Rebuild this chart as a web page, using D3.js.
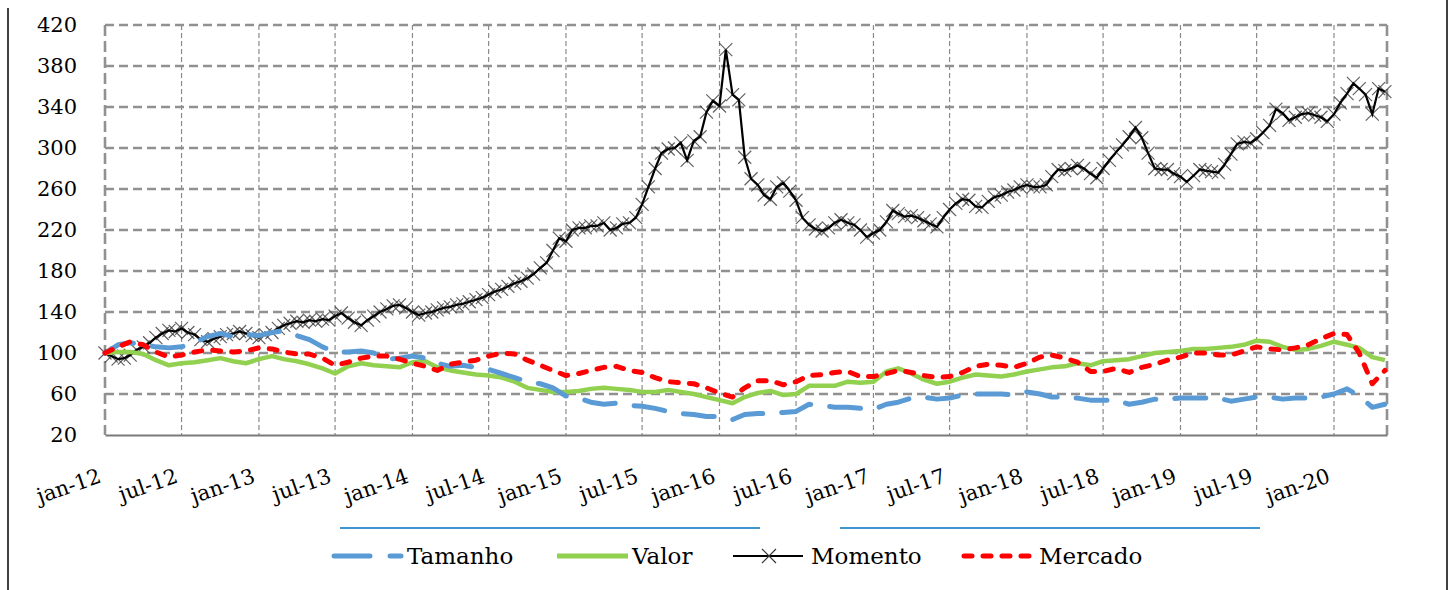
<!DOCTYPE html>
<html>
<head>
<meta charset="utf-8">
<script src="https://cdn.jsdelivr.net/npm/d3@7"></script>
<style>
  body { margin: 0; background: #fff; }
  svg { display: block; }
  text { font-family: "DejaVu Serif", serif; fill: #000; }
</style>
</head>
<body>
<div id="chart"></div>
<script>
// tick labels
var yTicks = [20, 60, 100, 140, 180, 220, 260, 300, 340, 380, 420];
var xTickLabels = ["jan-12","jul-12","jan-13","jul-13","jan-14","jul-14","jan-15","jul-15","jan-16",
                   "jul-16","jan-17","jul-17","jan-18","jul-18","jan-19","jul-19","jan-20"];
var seriesNames = ["Tamanho", "Valor", "Momento", "Mercado"];

// Momento, twice a month (1st and 16th), jan-12 .. may-20
var momento = [100,97,94,95,98,103,106,110,115,119,
  122,121,124,120,118,113,111,114,116,118,
  119,121,119,117,115,118,120,124,127,129,
  131,130,132,131,133,132,136,139,134,130,
  127,132,136,140,143,146,147,144,140,137,
  139,140,142,144,145,147,148,150,152,154,
  157,160,162,165,168,170,173,177,183,188,
  200,212,209,220,222,222,224,224,227,220,
  222,226,227,232,245,262,280,295,299,300,
  305,288,307,311,335,346,341,396,352,347,
  291,270,264,254,250,262,266,258,249,232,
  225,221,219,222,227,230,227,225,220,213,
  217,220,228,239,236,233,234,232,229,226,
  223,232,240,246,250,249,243,242,248,252,
  254,257,259,262,264,262,262,264,272,279,
  278,280,283,280,275,271,280,288,296,303,
  311,320,310,295,280,279,279,275,272,267,
  273,279,278,277,276,284,294,304,306,305,
  309,315,322,338,334,327,330,333,334,332,
  330,326,333,344,353,363,358,352,333,358,
  355];

// monthly, jan-12 .. may-20
var tamanho = [100,108,110,108,106,105,106,110,116,119,
  116,118,117,120,122,117,113,106,101,101,
  102,100,94,95,97,95,90,87,88,86,
  84,80,76,72,70,66,58,56,52,50,
  51,49,48,46,43,41,40,38,38,35,
  40,41,41,42,43,50,49,47,47,46,
  45,50,52,56,57,55,56,59,60,60,
  60,59,62,60,57,57,56,54,54,54,
  50,52,55,55,56,56,56,56,53,55,
  57,57,55,56,56,57,60,65,58,47,
  50];

var valor = [100,101,101,99,93,88,90,91,93,95,
  92,90,94,97,94,92,89,85,80,87,
  90,88,87,86,91,92,86,83,81,79,
  78,76,72,66,64,62,62,63,65,66,
  65,64,62,62,64,62,60,57,54,51,
  57,61,63,59,60,68,68,68,72,71,
  72,82,85,80,74,70,72,76,79,78,
  77,79,82,84,86,87,90,88,92,93,
  94,97,100,101,102,104,104,105,106,108,
  112,111,106,103,104,107,111,108,105,96,
  93];

var mercado = [100,106,111,108,101,96,98,101,103,102,
  101,102,105,104,101,99,99,95,88,91,
  95,97,97,94,90,87,83,89,91,93,
  97,100,99,93,88,83,78,80,83,86,
  87,83,81,76,72,71,70,66,61,57,
  66,73,73,69,72,78,79,81,82,77,
  77,80,83,81,78,76,77,81,87,89,
  88,86,90,96,98,95,91,82,82,85,
  81,86,89,93,96,100,100,98,98,102,
  106,104,103,105,108,114,119,118,100,70,
  83];

var width = 1455, height = 590;
var plot = {left: 105, right: 1387, top: 25, bottom: 435};

var svg = d3.select("#chart").append("svg")
  .attr("width", width)
  .attr("height", height);

var x = d3.scaleTime()
  .domain([new Date(2012, 0, 1), new Date(2020, 4, 6)])
  .range([plot.left, plot.right]);
var y = d3.scaleLinear()
  .domain([20, 420])
  .range([plot.bottom, plot.top]);

function monthly(arr) {
  return arr.map(function(v, i) { return {date: new Date(2012, i, 1), value: v}; });
}
function halfMonthly(arr) {
  return arr.map(function(v, i) {
    return {date: new Date(2012, Math.floor(i / 2), i % 2 ? 16 : 1), value: v};
  });
}

// outer frame lines
svg.append("line").attr("x1", 8).attr("x2", 8).attr("y1", 8).attr("y2", 590)
  .attr("stroke", "#000").attr("stroke-width", 1.5);
svg.append("line").attr("x1", 1447).attr("x2", 1447).attr("y1", 0).attr("y2", 590)
  .attr("stroke", "#000").attr("stroke-width", 1.5);

// vertical grid (every 6 months)
var xTickDates = xTickLabels.map(function(d, i) { return new Date(2012, i * 6, 1); });
svg.append("g")
  .selectAll("line")
  .data(xTickDates.slice(1))
  .enter().append("line")
  .attr("x1", function(d) { return x(d); })
  .attr("x2", function(d) { return x(d); })
  .attr("y1", plot.top)
  .attr("y2", plot.bottom)
  .attr("stroke", "#8a8a8a")
  .attr("stroke-width", 1.2)
  .attr("stroke-dasharray", "5,3");

// horizontal grid
svg.append("g")
  .selectAll("line")
  .data(yTicks.slice(1))
  .enter().append("line")
  .attr("x1", plot.left)
  .attr("x2", plot.right)
  .attr("y1", function(d) { return y(d); })
  .attr("y2", function(d) { return y(d); })
  .attr("stroke", "#919191")
  .attr("stroke-width", 2.6)
  .attr("stroke-dasharray", "9,5");

// side borders of plot area
[plot.left, plot.right].forEach(function(px) {
  svg.append("line").attr("x1", px).attr("x2", px)
    .attr("y1", plot.top).attr("y2", plot.bottom)
    .attr("stroke", "#919191").attr("stroke-width", 2.6)
    .attr("stroke-dasharray", "11,5");
});

// y axis labels
var yAxis = svg.append("g")
  .attr("transform", "translate(" + plot.left + ",0)")
  .call(d3.axisLeft(y).tickValues(yTicks).tickSize(0).tickPadding(28));
yAxis.select(".domain").remove();
yAxis.selectAll("text")
  .style("font-family", "'DejaVu Serif', serif")
  .style("font-size", "21px")
  .attr("fill", "#000");

// x axis (bottom line + rotated labels)
var xAxis = svg.append("g")
  .attr("transform", "translate(0," + plot.bottom + ")")
  .call(d3.axisBottom(x).tickValues(xTickDates).tickSize(0)
    .tickFormat(function(d, i) { return xTickLabels[i]; }));
xAxis.select(".domain").attr("stroke", "#7a7a7a").attr("stroke-width", 2);
xAxis.selectAll("text")
  .style("font-family", "'DejaVu Serif', serif")
  .style("font-size", "21px")
  .attr("fill", "#000")
  .attr("text-anchor", "end")
  .attr("y", 0).attr("dy", 0)
  .attr("transform", "translate(-3,47) rotate(-19)");

// lines
var line = d3.line()
  .x(function(d) { return x(d.date); })
  .y(function(d) { return y(d.value); });

var momentoData = halfMonthly(momento);
var gm = svg.append("g");
gm.selectAll(".mk")
  .data(momentoData)
  .enter().append("path")
  .attr("class", "mk")
  .attr("d", "M-6.5,-6.5L6.5,6.5M-6.5,6.5L6.5,-6.5")
  .attr("transform", function(d) { return "translate(" + x(d.date) + "," + y(d.value) + ")"; })
  .attr("stroke", "#3a3a3a")
  .attr("stroke-opacity", 0.8)
  .attr("stroke-width", 1.2)
  .attr("fill", "none");
gm.append("path")
  .datum(momentoData)
  .attr("d", line)
  .attr("fill", "none")
  .attr("stroke", "#000")
  .attr("stroke-width", 2.2);

svg.append("path")
  .datum(monthly(valor))
  .attr("d", line)
  .attr("fill", "none")
  .attr("stroke", "#92d050")
  .attr("stroke-width", 4.5)
  .attr("stroke-linejoin", "round");

svg.append("path")
  .datum(monthly(tamanho))
  .attr("d", line)
  .attr("fill", "none")
  .attr("stroke", "#5b9bd5")
  .attr("stroke-width", 5)
  .attr("stroke-linecap", "round")
  .attr("stroke-linejoin", "round")
  .attr("stroke-dasharray", "31,19");

svg.append("path")
  .datum(monthly(mercado))
  .attr("d", line)
  .attr("fill", "none")
  .attr("stroke", "#ff0000")
  .attr("stroke-width", 5)
  .attr("stroke-linecap", "round")
  .attr("stroke-linejoin", "round")
  .attr("stroke-dasharray", "8,11");

// decorative blue rules above legend
[[340, 760], [840, 1260]].forEach(function(s) {
  svg.append("line").attr("x1", s[0]).attr("x2", s[1]).attr("y1", 528).attr("y2", 528)
    .attr("stroke", "#0070c0").attr("stroke-width", 1.3);
});

// legend
var ly = 556;
var lg = svg.append("g");
lg.append("line").attr("x1", 334).attr("x2", 370).attr("y1", ly).attr("y2", ly)
  .attr("stroke", "#5b9bd5").attr("stroke-width", 5).attr("stroke-linecap", "round");
lg.append("line").attr("x1", 390).attr("x2", 401).attr("y1", ly).attr("y2", ly)
  .attr("stroke", "#5b9bd5").attr("stroke-width", 5).attr("stroke-linecap", "round");
lg.append("line").attr("x1", 557).attr("x2", 628).attr("y1", ly).attr("y2", ly)
  .attr("stroke", "#92d050").attr("stroke-width", 5);
lg.append("line").attr("x1", 733).attr("x2", 803).attr("y1", ly).attr("y2", ly)
  .attr("stroke", "#000").attr("stroke-width", 2);
lg.append("path").attr("d", "M-7,-7L7,7M-7,7L7,-7")
  .attr("transform", "translate(769," + ly + ")")
  .attr("stroke", "#333").attr("stroke-width", 1.1).attr("fill", "none");
lg.append("line").attr("x1", 964).attr("x2", 1034).attr("y1", ly).attr("y2", ly)
  .attr("stroke", "#ff0000").attr("stroke-width", 5).attr("stroke-linecap", "round")
  .attr("stroke-dasharray", "8,11");

var labelX = [407, 632, 811, 1039];
lg.selectAll("text")
  .data(seriesNames)
  .enter().append("text")
  .attr("x", function(d, i) { return labelX[i]; })
  .attr("y", ly + 8)
  .style("font-size", "23px")
  .text(function(d) { return d; });
</script>
</body>
</html>
